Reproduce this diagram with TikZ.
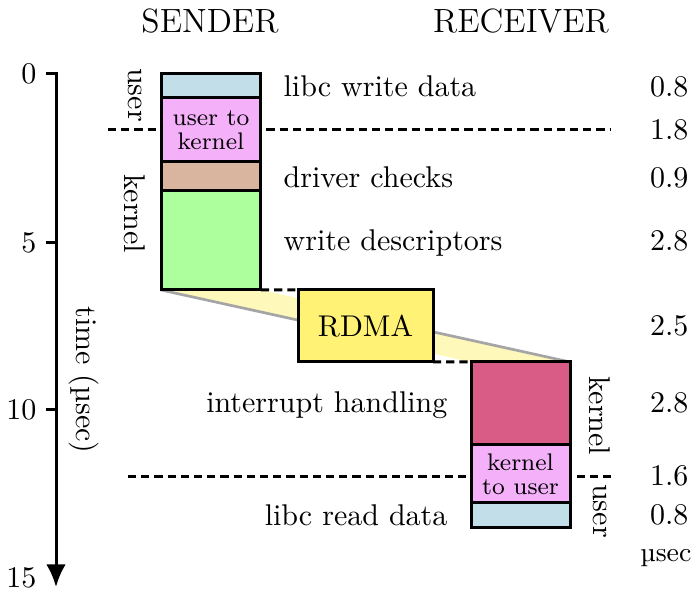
\documentclass[tikz,border=0pt]{standalone}
\usepackage{fontspec}
\usetikzlibrary{arrows.meta,backgrounds}
\definecolor{libcblue}{RGB}{194,222,232}
\definecolor{switchpink}{RGB}{245,176,250}
\definecolor{drivertan}{RGB}{217,180,158}
\definecolor{descgreen}{RGB}{173,255,158}
\definecolor{rdmayellow}{RGB}{255,242,117}
\definecolor{bandyellow}{RGB}{255,248,187}
\definecolor{irqred}{RGB}{217,92,135}
\definecolor{bandgrey}{RGB}{165,165,165}
\begin{document}
\begin{tikzpicture}[x=0.33333pt,y=-0.33333pt,
  blk/.style={draw=black,line width=1pt,rectangle,anchor=north west,inner sep=0pt,outer sep=0pt},
  sndblk/.style={blk,minimum width=33.33pt},
  rcvblk/.style={blk,minimum width=33pt},
  sepline/.style={line width=1pt,dash pattern=on 2.7pt off 1.7pt},
  lbl/.style={inner sep=0pt},
  vlbl/.style={inner sep=0pt,rotate=-90},
  small2/.style={font=\footnotesize,align=center,inner sep=0pt},
  head/.style={inner sep=0pt,anchor=base,font=\fontsize{11.2}{13}\selectfont},
  dur/.style={inner sep=0pt,anchor=base east}]
\useasboundingbox (0,0) rectangle (696,592);

% headers
\node[head] (hs) at (210,33) {SENDER};
\node[head] (hr) at (521,33) {RECEIVER};

% sender stack
\node[sndblk,fill=libcblue,minimum height=8pt] (s1) at (161,74) {};
\node[sndblk,fill=switchpink,minimum height=21.33pt] (s2) at (161,98) {};
\node[sndblk,fill=drivertan,minimum height=9.67pt] (s3) at (161,162) {};
\node[sndblk,fill=descgreen,minimum height=33pt] (s4) at (161,191) {};
\node[small2] (s2t) at (s2.center) {user to\\[-1.6pt]kernel};

% RDMA transfer
\node[blk,fill=rdmayellow,minimum width=45pt,minimum height=24pt] (rdma) at (298,290) {};
\node[lbl] (rdmat) at (rdma.center) {RDMA};

% receiver stack
\node[rcvblk,fill=irqred,minimum height=27.67pt] (r1) at (471,362) {};
\node[rcvblk,fill=switchpink,minimum height=19.33pt] (r2) at (471,445) {};
\node[rcvblk,fill=libcblue,minimum height=8.33pt] (r3) at (471,503) {};
\node[small2] (r2t) at (r2.center) {kernel\\[-1.6pt]to user};

\begin{scope}[on background layer]
  % transfer band from sender to receiver
  \fill[bandyellow] (s4.south west) -- (s4.south east) -- ++(150,33) -- ++(-100,0) -- cycle;
  \fill[bandyellow] (r1.north west) -- (r1.north east) -- ++(-150,-33) -- ++(-99,0) -- cycle;
  \draw[bandgrey,line width=0.9pt] (s4.south west) -- ++(150,33);
  \draw[bandgrey,line width=0.9pt] (r1.north east) -- ++(-150,-33);
  % user/kernel boundaries
  \coordinate (b1l) at (108,130);
  \coordinate (b1r) at (610,130);
  \coordinate (b2l) at (128,477);
  \coordinate (b2r) at (615,477);
  \draw[sepline] (b1l) -- (b1r);
  \draw[sepline] (b2l) -- (b2r);
  \draw[sepline] (s4.south east) -- (rdma.north west);
  \draw[sepline] (rdma.south east) -- (r1.north west);
\end{scope}

% step labels
\node[lbl,anchor=base west] (l1) at (283,97) {libc write data};
\node[lbl,anchor=base west] (l2) at (283,188) {driver checks};
\node[lbl,anchor=base west] (l3) at (283,251) {write descriptors};
\node[lbl,anchor=base east] (l4) at (448,413) {interrupt handling};
\node[lbl,anchor=base east] (l5) at (448,526) {libc read data};

% mode labels
\node[vlbl] (su) at (135,95) {user};
\node[vlbl] (sk) at (135,214) {kernel};
\node[vlbl] (rk) at (600,416) {kernel};
\node[vlbl] (ru) at (600,511) {user};

% durations
\node[dur] (d1) at (689,97) {0.8};
\node[dur] (d2) at (689,140) {1.8};
\node[dur] (d3) at (689,188) {0.9};
\node[dur] (d4) at (689,251) {2.8};
\node[dur] (d5) at (689,336) {2.5};
\node[dur] (d6) at (689,413) {2.8};
\node[dur] (d7) at (689,486) {1.6};
\node[dur] (d8) at (689,525) {0.8};
\node[dur,font=\small] (du) at (692,562) {µsec};

% time axis
\coordinate (t0) at (46,74);
\coordinate (a0) at (56,74);
\coordinate (aend) at (56,587);
\coordinate (t5l) at (46,243);
\coordinate (t5r) at (56,243);
\coordinate (t10l) at (46,410);
\coordinate (t10r) at (56,410);
\draw[line width=1pt,-{Latex[length=7.5pt,width=6.5pt]}] (t0) -- (a0) -- (aend);
\draw[line width=1pt] (t5l) -- (t5r);
\draw[line width=1pt] (t10l) -- (t10r);
\node[lbl,anchor=base east] (n0) at (37,84) {0};
\node[lbl,anchor=base east] (n5) at (37,253) {5};
\node[lbl,anchor=base east] (n10) at (37,420) {10};
\node[lbl,anchor=base east] (n15) at (37,588) {15};
\node[vlbl] (tl) at (84,380) {time (µsec)};
\end{tikzpicture}
\end{document}
